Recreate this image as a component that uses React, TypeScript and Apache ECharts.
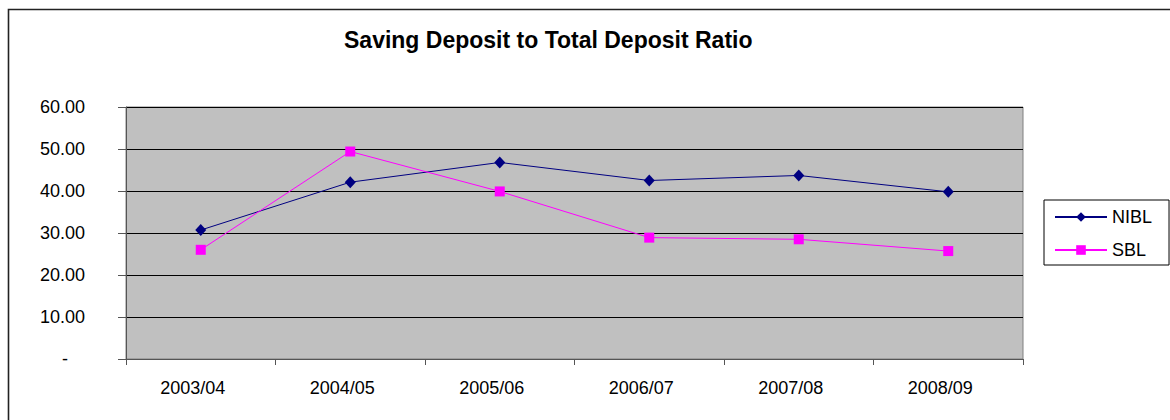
import React, { useEffect, useRef } from "react";
import * as echarts from "echarts";

const categories = ["2003/04", "2004/05", "2005/06", "2006/07", "2007/08", "2008/09"];
const nibl = [30.7, 42.1, 46.8, 42.5, 43.7, 39.8];
const sbl = [26.0, 49.4, 39.9, 28.9, 28.5, 25.7];
const titleText = "Saving Deposit to Total Deposit Ratio";

const FONT = "'Liberation Sans', Arial, sans-serif";

export default function App() {
  const ref = useRef<HTMLDivElement>(null);
  useEffect(() => {
    if (!ref.current) return;
    const chart = echarts.init(ref.current, null, { renderer: "svg" });
    chart.setOption({
      animation: false,
      backgroundColor: "#ffffff",
      textStyle: { fontFamily: FONT },
      title: {
        text: titleText,
        left: 344,
        top: 28,
        padding: 0,
        textStyle: { fontSize: 23, fontWeight: "bold", color: "#000", fontFamily: FONT },
      },
      graphic: [
        {
          type: "rect",
          shape: { x: 8.5, y: 9.5, width: 1400, height: 700 },
          style: { fill: "none", stroke: "#222", lineWidth: 1.6 },
          silent: true,
        },
      ],
      legend: {
        orient: "vertical",
        left: 1044,
        top: 200,
        padding: [8, 17, 6, 10],
        itemWidth: 52,
        itemHeight: 12,
        itemGap: 15,
        borderColor: "#000",
        borderWidth: 1,
        backgroundColor: "#fff",
        textStyle: { fontSize: 18, color: "#000", fontFamily: FONT },
        data: ["NIBL", "SBL"],
      },
      grid: {
        left: 126,
        top: 107,
        width: 897,
        height: 252,
        show: true,
        backgroundColor: "#C0C0C0",
        borderColor: "#808080",
        borderWidth: 1,
        containLabel: false,
      },
      xAxis: {
        type: "category",
        data: categories,
        boundaryGap: true,
        axisLine: { show: true, lineStyle: { color: "#555", width: 1 } },
        axisTick: { show: true, length: 6, alignWithLabel: false, lineStyle: { color: "#555" } },
        axisLabel: {
          fontSize: 18,
          color: "#000",
          fontFamily: FONT,
          margin: 20,
          padding: [0, 16, 0, 0],
          interval: 0,
        },
        splitLine: { show: false },
      },
      yAxis: {
        type: "value",
        min: 0,
        max: 60,
        interval: 10,
        axisLine: { show: true, lineStyle: { color: "#555", width: 1 } },
        axisTick: { show: true, length: 8, lineStyle: { color: "#555" } },
        axisLabel: {
          fontSize: 18,
          color: "#000",
          fontFamily: FONT,
          margin: 41,
          formatter: (v: number) => (v === 0 ? "{d|-}" : v.toFixed(2)),
          rich: {
            d: { fontSize: 18, color: "#000", fontFamily: FONT, padding: [0, 17, 0, 0] },
          },
        },
        splitLine: { show: true, lineStyle: { color: "#000", width: 1 } },
      },
      series: [
        {
          name: "NIBL",
          type: "line",
          data: nibl,
          symbol: "diamond",
          symbolSize: [11, 12],
          showAllSymbol: true,
          lineStyle: { color: "#000080", width: 1 },
          itemStyle: { color: "#000080" },
        },
        {
          name: "SBL",
          type: "line",
          data: sbl,
          symbol: "rect",
          symbolSize: 10,
          showAllSymbol: true,
          lineStyle: { color: "#FF00FF", width: 1 },
          itemStyle: { color: "#FF00FF" },
        },
      ],
    });
    return () => chart.dispose();
  }, []);
  return (
    <div
      ref={ref}
      style={{ position: "absolute", left: 0, top: 0, width: 1170, height: 420 }}
    />
  );
}
